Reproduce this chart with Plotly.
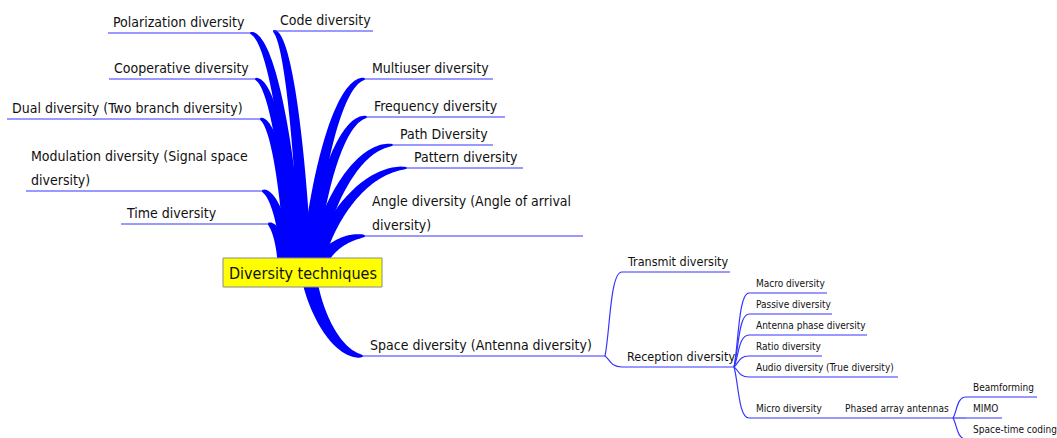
import numpy as np
import plotly.graph_objects as go

# ---------------- data (labels) ----------------
root_label = "Diversity techniques"
left_labels = [
    "Polarization diversity",
    "Cooperative diversity",
    "Dual diversity (Two branch diversity)",
    "Modulation diversity (Signal space<br>diversity)",
    "Time diversity",
]
right_labels = [
    "Code diversity",
    "Multiuser diversity",
    "Frequency diversity",
    "Path Diversity",
    "Pattern diversity",
    "Angle diversity (Angle of arrival<br>diversity)",
    "Space diversity (Antenna diversity)",
]
space_children = ["Transmit diversity", "Reception diversity"]
reception_children = [
    "Macro diversity",
    "Passive diversity",
    "Antenna phase diversity",
    "Ratio diversity",
    "Audio diversity (True diversity)",
    "Micro diversity",
]
micro_children = ["Phased array antennas"]
phased_children = ["Beamforming", "MIMO", "Space-time coding"]

# ---------------- layout (pixel positions: left x, right x, underline y) ----------------
left_pos = [(108, 250, 33), (109, 255, 79), (7, 260, 119), (26, 262, 191), (121, 268, 224)]
left_roots = [(297, 262), (294, 262), (291, 262), (288, 262), (284, 262)]
right_pos = [(273, 373, 31), (365, 493, 79), (367, 505, 117), (393, 493, 145),
             (407, 523, 168), (365, 583, 236), (363, 605, 356)]
right_roots = [(305, 262), (308, 262), (311, 262), (314, 262), (317, 262), (321, 262), (310, 282)]
space_pos = [(622, 730, 272), (622, 734, 367)]
reception_pos = [(749, 827, 293), (749, 832, 314), (749, 867, 335), (749, 822, 356),
                 (749, 898, 377), (749, 832, 418)]
micro_pos = [(832, 953, 418)]
phased_pos = [(966, 1037, 397), (966, 1002, 418), (966, 1057, 439)]
root_box = (223, 382, 258, 287)

W, H = 1057, 438
BLUE = "#0000ff"
LINE = "#3535ff"
FONT = "DejaVu Sans Condensed, DejaVu Sans, sans-serif"
TXT = "#111111"

shapes = []
annotations = []


def bezier(p0, p1, p2, p3, n=60):
    t = np.linspace(0, 1, n)[:, None]
    p0, p1, p2, p3 = map(np.array, (p0, p1, p2, p3))
    pts = (1 - t) ** 3 * p0 + 3 * (1 - t) ** 2 * t * p1 + 3 * (1 - t) * t ** 2 * p2 + t ** 3 * p3
    d = 3 * (1 - t) ** 2 * (p1 - p0) + 6 * (1 - t) * t * (p2 - p1) + 3 * t ** 2 * (p3 - p2)
    return t[:, 0], pts, d


def tapered(root, end, w0=13.0, w1=1.2):
    rx, ry = root
    ex, ey = end
    p1 = (rx + 0.15 * (ex - rx), ry + 0.5 * (ey - ry))
    p2 = (ex - 0.45 * (ex - rx), ey)
    t, pts, d = bezier(root, p1, p2, end)
    nrm = np.stack([-d[:, 1], d[:, 0]], axis=1)
    nrm /= np.linalg.norm(nrm, axis=1, keepdims=True) + 1e-9
    w = w1 + (w0 - w1) * (1 - t) ** 0.55
    a = pts + nrm * (w[:, None] / 2)
    b = pts - nrm * (w[:, None] / 2)
    poly = np.vstack([a, b[::-1]])
    path = "M " + " L ".join(f"{x:.2f},{y:.2f}" for x, y in poly) + " Z"
    shapes.append(dict(type="path", path=path, fillcolor=BLUE, line=dict(width=0),
                       xref="x", yref="y", layer="above"))


def thin(start, end):
    x0, y0 = start
    x1, y1 = end
    dx, dy = x1 - x0, y1 - y0
    path = (f"M {x0},{y0} C {x0 + 0.3 * dx:.2f},{y0 + 0.3 * dy:.2f} "
            f"{x0 + 0.3 * dx:.2f},{y1} {x1},{y1}")
    shapes.append(dict(type="path", path=path, line=dict(color=LINE, width=1.2),
                       xref="x", yref="y", layer="above"))


def underline(lx, rx, y):
    shapes.append(dict(type="line", x0=lx, x1=rx, y0=y, y1=y,
                       line=dict(color=LINE, width=1.1), xref="x", yref="y", layer="above"))


def label(text, x, y_under, size, gap, spacing):
    lines = text.split("<br>")
    n = len(lines)
    for i, ln in enumerate(lines):
        yy = y_under - gap - (n - 1 - i) * spacing
        annotations.append(dict(text=ln, x=x, y=yy, xref="x", yref="y", showarrow=False,
                                xanchor="left", yanchor="middle",
                                font=dict(family=FONT, size=size, color=TXT)))


# main branches
for lab, (lx, rx, y), root in zip(left_labels, left_pos, left_roots):
    tapered(root, (rx, y))
    underline(lx, rx, y)
    label(lab, lx + 3, y, 14, 11.5, 24)

for lab, (lx, rx, y), root in zip(right_labels, right_pos, right_roots):
    tapered(root, (lx, y), w0=15 if y > root_box[3] else 13)
    underline(lx, rx, y)
    label(lab, lx + 5, y, 14, 11.5, 24)

# space diversity children
sx, sy = right_pos[-1][1], right_pos[-1][2]
for lab, (lx, rx, y) in zip(space_children, space_pos):
    thin((sx, sy), (lx, y))
    underline(lx, rx, y)
    label(lab, lx + 3, y, 12.5, 10.5, 20)

# reception children
rcx, rcy = space_pos[1][1], space_pos[1][2]
for lab, (lx, rx, y) in zip(reception_children, reception_pos):
    thin((rcx, rcy), (lx, y))
    underline(lx, rx, y)
    label(lab, lx + 5, y, 10, 9.5, 16)

# micro -> phased array
mx, my = reception_pos[-1][1], reception_pos[-1][2]
for lab, (lx, rx, y) in zip(micro_children, micro_pos):
    underline(mx, rx, y)
    label(lab, lx + 11, y, 10, 9.5, 16)

# phased array children
px, py = micro_pos[0][1], micro_pos[0][2]
for lab, (lx, rx, y) in zip(phased_children, phased_pos):
    thin((px, py), (lx, y))
    underline(lx, rx, y)
    label(lab, lx + 5, y, 10, 9.5, 16)

# root box
bx0, bx1, by0, by1 = root_box
shapes.append(dict(type="rect", x0=bx0, x1=bx1, y0=by0, y1=by1, fillcolor="#ffff00",
                   line=dict(color="#8a8a8a", width=1), xref="x", yref="y", layer="above"))
annotations.append(dict(text=root_label, x=(bx0 + bx1) / 2, y=(by0 + by1) / 2 + 0.5,
                        xref="x", yref="y", showarrow=False, xanchor="center", yanchor="middle",
                        font=dict(family=FONT, size=16, color=TXT)))

fig = go.Figure()
fig.add_trace(go.Scatter(x=[0, W], y=[0, H], mode="markers",
                         marker=dict(opacity=0), hoverinfo="skip", showlegend=False))
fig.update_layout(
    width=W, height=H, margin=dict(l=0, r=0, t=0, b=0),
    paper_bgcolor="white", plot_bgcolor="white",
    xaxis=dict(range=[0, W], visible=False, fixedrange=True),
    yaxis=dict(range=[H, 0], visible=False, fixedrange=True),
    shapes=shapes, annotations=annotations, showlegend=False,
)
fig.write_html("out.html", config={"displayModeBar": False, "staticPlot": True},
               post_script="document.body.style.margin='0';document.body.style.overflow='hidden';")
